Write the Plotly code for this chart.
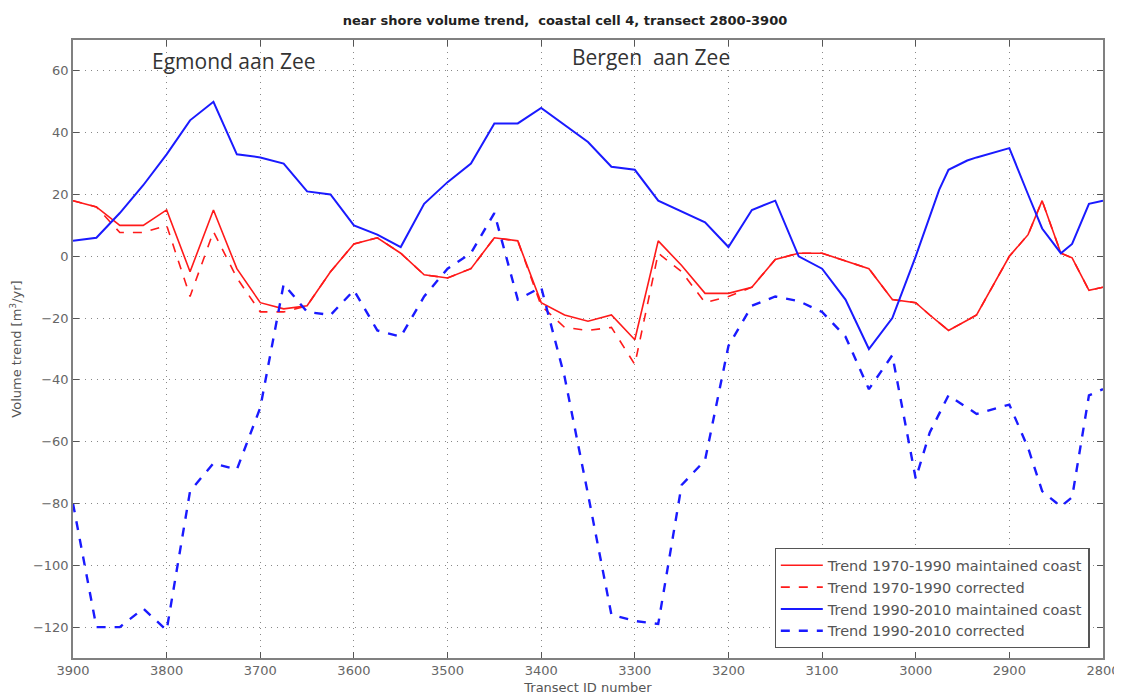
import plotly.graph_objects as go

transect = [3900, 3875, 3850, 3825, 3800, 3775, 3750, 3725, 3700, 3675, 3650, 3625,
            3600, 3575, 3550, 3525, 3500, 3475, 3450, 3425, 3400, 3375, 3350, 3325,
            3300, 3275, 3250, 3225, 3200, 3175, 3150, 3125, 3100, 3075, 3050, 3025,
            3000, 2985, 2975, 2965, 2945, 2935, 2900, 2880, 2865, 2845, 2833, 2815, 2800]

trend_7090_maint = [18, 16, 10, 10, 15, -5, 15, -4, -15, -17, -16, -5,
                    4, 6, 1, -6, -7, -4, 6, 5, -15, -19, -21, -19,
                    -27, 5, -3, -12, -12, -10, -1, 1, 1, -1.5, -4, -14,
                    -15, -19, -21.5, -24, -20.7, -19, 0, 7, 18, 1, -0.5, -11, -10]

trend_7090_corr = [18, 16, 7.7, 7.7, 10, -13, 8, -7, -18, -18, -16, -5,
                   4, 6, 1, -6, -7, -4, 6, 5, -16, -23, -24, -23,
                   -35, 1, -5, -15, -13, -10, -1, 1, 1, -1.5, -4, -14,
                   -15, -19, -21.5, -24, -20.7, -19, 0, 7, 18, 1, -0.5, -11, -10]

trend_9010_maint = [5, 6, 14, 23, 33, 44, 50, 33, 32, 30, 21, 20,
                    10, 7, 3, 17, 24, 30, 43, 43, 48, 42.5, 37, 29,
                    28, 18, 14.5, 11, 3, 15, 18, 0, -4, -14, -30, -20,
                    0, 13, 21.5, 28, 31, 32, 35, 20, 9, 1, 4, 17, 18]

trend_9010_corr = [-80, -120, -120, -114, -121, -76, -67, -69, -49, -9, -18, -19,
                   -11, -24, -26, -13, -4, 1, 14, -14, -10, -39, -77, -116,
                   -118, -119, -74, -66, -29, -16, -13, -14.5, -18, -26, -43, -32,
                   -72, -57, -51, -45, -49, -51, -48, -62, -76, -81, -78, -45, -43]

legend_names = ["Trend 1970-1990 maintained coast", "Trend 1970-1990 corrected",
                "Trend 1990-2010 maintained coast", "Trend 1990-2010 corrected"]

x_ticks = [3900, 3800, 3700, 3600, 3500, 3400, 3300, 3200, 3100, 3000, 2900, 2800]
y_ticks = [-120, -100, -80, -60, -40, -20, 0, 20, 40, 60]

fig = go.Figure()
fig.add_trace(go.Scatter(x=transect, y=trend_7090_maint, mode="lines", name=legend_names[0],
                         line=dict(color="#ff1a1a", width=1.6)))
fig.add_trace(go.Scatter(x=transect, y=trend_7090_corr, mode="lines", name=legend_names[1],
                         line=dict(color="#ff1a1a", width=1.6, dash="dash")))
fig.add_trace(go.Scatter(x=transect, y=trend_9010_maint, mode="lines", name=legend_names[2],
                         line=dict(color="#1a1aff", width=2)))
fig.add_trace(go.Scatter(x=transect, y=trend_9010_corr, mode="lines", name=legend_names[3],
                         line=dict(color="#1a1aff", width=2.4, dash="dash")))

axis_common = dict(showline=True, linecolor="#808080", linewidth=1.5, mirror="ticks",
                   ticks="inside", ticklen=6, tickcolor="#555555", automargin=False,
                   showgrid=True, gridcolor="#888888", griddash="1px,5px", gridwidth=1.3,
                   zeroline=False, tickfont=dict(family="DejaVu Sans", size=13, color="#666666"))

# page body has an 8px margin, so the figure is slightly smaller than the window
fig.update_layout(
    width=1114, height=687,
    margin=dict(l=65, r=19, t=32, b=37),
    paper_bgcolor="white", plot_bgcolor="white",
    title=dict(text="<b>near shore volume trend,  coastal cell 4, transect 2800-3900</b>",
               x=0.5, xanchor="center", y=0.9825, yanchor="middle",
               font=dict(family="DejaVu Sans", size=13, color="#222222")),
    xaxis=dict(range=[3900, 2800], tickvals=x_ticks,
               title=dict(text="Transect ID number", standoff=6,
                          font=dict(family="DejaVu Sans", size=13, color="#555555")),
               **axis_common),
    yaxis=dict(range=[-130, 70], tickvals=y_ticks,
               title=dict(text="Volume trend [m<sup>3</sup>/yr]", standoff=10,
                          font=dict(family="DejaVu Sans", size=13, color="#555555")),
               **axis_common),
    legend=dict(x=0.987, y=0.016, xanchor="right", yanchor="bottom",
                bgcolor="white", bordercolor="#555555", borderwidth=1.2,
                font=dict(family="DejaVu Sans", size=14.5, color="#555555"),
                tracegroupgap=0, itemwidth=42),
    showlegend=True,
    annotations=[
        dict(text="Egmond aan Zee", x=3728, y=63.2, xref="x", yref="y", showarrow=False,
             font=dict(family="Open Sans", size=21, color="#333333")),
        dict(text="Bergen  aan Zee", x=3283, y=64.5, xref="x", yref="y", showarrow=False,
             font=dict(family="Open Sans", size=21, color="#333333")),
    ],
)

fig.write_html("out.html")
